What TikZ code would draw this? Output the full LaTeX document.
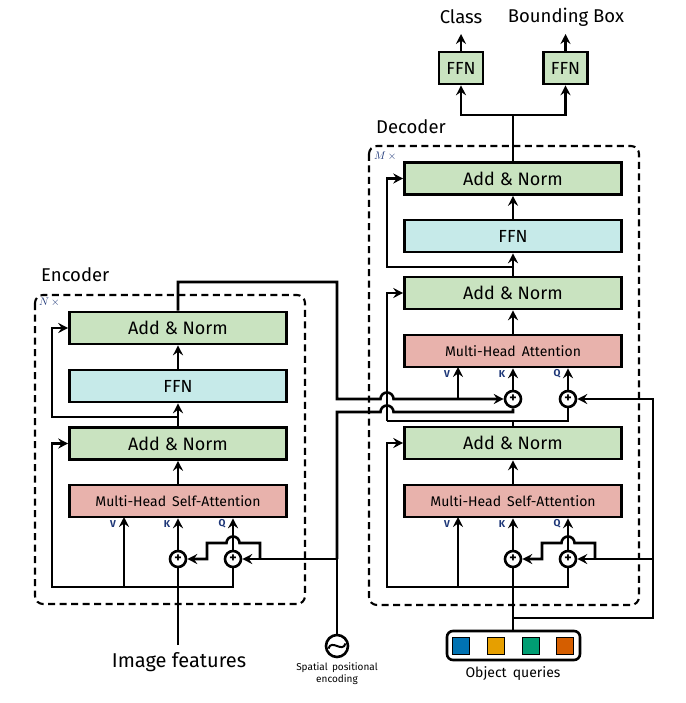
\documentclass[tikz,border=0pt]{standalone}
\usepackage{fontspec}
\setmainfont{Fira Sans}
\usetikzlibrary{arrows.meta}
\definecolor{angreen}{RGB}{201,227,192}
\definecolor{ffncyan}{RGB}{198,234,233}
\definecolor{mhapink}{RGB}{232,178,172}
\definecolor{lblnavy}{RGB}{30,55,120}
\definecolor{qblue}{RGB}{0,114,178}
\definecolor{qorange}{RGB}{230,159,0}
\definecolor{qgreen}{RGB}{0,158,115}
\definecolor{qverm}{RGB}{213,94,0}
\tikzset{
  ln/.style={line width=2.6pt},
  arr/.style={line width=2.6pt,-{Stealth[length=10pt,width=10pt,inset=3.5pt]}},
  bigbox/.style={draw,line width=2.6pt,minimum width=217pt,minimum height=32pt,inner sep=0pt},
  anbox/.style={bigbox,fill=angreen,font=\fontsize{18}{20}\selectfont},
  ffnbox/.style={bigbox,fill=ffncyan,font=\fontsize{17.5}{20}\selectfont},
  mhabox/.style={bigbox,fill=mhapink,font=\fontsize{14}{16}\selectfont},
  smallffn/.style={draw,line width=2.6pt,fill=angreen,minimum width=44pt,minimum height=32pt,inner sep=0pt,font=\fontsize{17.5}{20}\selectfont},
  plusnode/.style={circle,draw,line width=2.6pt,fill=white,minimum size=16pt,inner sep=0pt,font=\bfseries\fontsize{14}{14}\selectfont},
  vkq/.style={font=\bfseries\fontsize{10}{11}\selectfont,text=lblnavy,inner sep=0pt},
  repbox/.style={draw,dashed,dash pattern=on 7pt off 4.5pt,line width=2.1pt,rounded corners=8pt},
  title/.style={font=\fontsize{18.5}{21}\selectfont,inner sep=0pt},
  qsq/.style={draw,line width=1.8pt,minimum size=17pt,inner sep=0pt},
  repl/.style={anchor=west,inner sep=0pt,font=\fontsize{11}{11}\selectfont,text=lblnavy},
}
\begin{document}
\begin{tikzpicture}[x=1pt,y=-1pt]
\useasboundingbox (0,0) rectangle (685,703);
% ---------------- Encoder ----------------
\draw[repbox] (35,295) rectangle (305,604);
\node[repl] (encN) at (39,302.5) {$N\,\times$};
\node[title,anchor=west] (enclbl) at (41,275) {Encoder};
\node[anbox] (eAN2) at (178,328) {Add \& Norm};
\node[ffnbox] (eFFN) at (178,386) {FFN};
\node[anbox] (eAN1) at (178,443.5) {Add \& Norm};
\node[mhabox] (eMHSA) at (178,501) {Multi-Head\, Self-Attention};
\node[plusnode] (ePK) at (178,559) {+};
\node[plusnode] (ePQ) at (233,559) {+};
\node[vkq] (eV) at (113,524) {V};
\node[vkq] (eK) at (167,524) {K};
\node[vkq] (eQ) at (222,524) {Q};
\node[font=\fontsize{20}{22}\selectfont,inner sep=0pt] (imf) at (179,662) {Image features};
\coordinate (imftop) at (178,645);
% image feature input
\draw[ln] (imftop) -- (ePK.south);
\draw[arr] (ePK.north) -- (ePK.north |- eMHSA.south);
\draw[arr] (ePQ.north) -- (ePQ.north |- eMHSA.south);
\coordinate (eBot) at (52,587);
\draw[arr] (ePQ.south) -- (233,587) -- (eBot) -- (eBot |- eAN1.west) -- (eAN1.west);
\draw[arr] (124,587) -- (124,517);
\draw[arr] (eMHSA.north) -- (eAN1.south);
\draw[arr] (eAN1.north) -- (eFFN.south);
\draw[arr] (eFFN.north) -- (eAN2.south);
\draw[arr] (178,417) -- (52,417) -- (52,328) -- (eAN2.west);
% positional encoding into encoder
\node[circle,draw,line width=2.6pt,minimum size=22pt,inner sep=0pt] (pe) at (337,646) {};
\draw[line width=2pt] (pe.center) ++(-8.5,2.5) .. controls +(3,-10) and +(-3,10) .. ++(17,-5);
\node[font=\fontsize{10}{12}\selectfont,align=center,inner sep=0pt] (pelbl) at (337,674) {Spatial\, positional\\encoding};
\draw[arr] (pe.north) -- (337,559) -- (ePQ.east);
\draw[arr] (260,559) -- (260,543) -- (239.5,543) arc[start angle=0,end angle=-180,radius=6.5] -- (207,543) -- (207,559) -- (ePK.east);
% ---------------- Decoder ----------------
\draw[repbox] (369,146) rectangle (639,605);
\node[repl] (decM) at (374,156) {$M\,\times$};
\node[title,anchor=west] (declbl) at (376,127) {Decoder};
\node[anbox] (dAN3) at (513,178.5) {Add \& Norm};
\node[ffnbox] (dFFN) at (513,236) {FFN};
\node[anbox] (dAN2) at (513,293) {Add \& Norm};
\node[mhabox] (dMHA) at (513,351) {Multi-Head\, Attention};
\node[anbox] (dAN1) at (513,443) {Add \& Norm};
\node[mhabox] (dMHSA) at (513,501) {Multi-Head\, Self-Attention};
\node[plusnode] (dPK) at (513,399) {+};
\node[plusnode] (dPQ) at (568,399) {+};
\node[plusnode] (dPK2) at (513,559) {+};
\node[plusnode] (dPQ2) at (568,559) {+};
\node[vkq] (dV) at (447,374) {V};
\node[vkq] (dK) at (502,374) {K};
\node[vkq] (dQ) at (557,374) {Q};
\node[vkq] (dV2) at (447,524) {V};
\node[vkq] (dK2) at (502,524) {K};
\node[vkq] (dQ2) at (557,524) {Q};
\node[smallffn] (fc) at (461,68) {FFN};
\node[smallffn] (fb) at (565.5,68) {FFN};
\node[title] (cls) at (461,17) {Class};
\node[title] (bbx) at (566,17) {Bounding Box};
\coordinate (clstip) at (461,34);
\coordinate (bbxtip) at (565.5,34);
% object queries
\node[draw,line width=2.6pt,rounded corners=6pt,minimum width=133pt,minimum height=29pt,inner sep=0pt] (oq) at (513.5,645.5) {};
\node[qsq,fill=qblue] (q1) at (461,646) {};
\node[qsq,fill=qorange] (q2) at (496,646) {};
\node[qsq,fill=qgreen] (q3) at (531,646) {};
\node[qsq,fill=qverm] (q4) at (565,646) {};
\node[font=\fontsize{14}{16}\selectfont,inner sep=0pt] (oqlbl) at (513,674) {Object\, queries};
% decoder bottom layer
\draw[ln] (oq.north -| dPK2) -- (dPK2.south);
\draw[arr] (513,618) -- (653,618) -- (653,399) -- (dPQ.east);
\draw[arr] (653,559) -- (dPQ2.east);
\draw[arr] (595,559) -- (595,543) -- (574.5,543) arc[start angle=0,end angle=-180,radius=6.5] -- (542,543) -- (542,559) -- (dPK2.east);
\draw[arr] (dPK2.north) -- (dPK2.north |- dMHSA.south);
\draw[arr] (dPQ2.north) -- (dPQ2.north |- dMHSA.south);
\draw[arr] (dPQ2.south) -- (568,587) -- (387,587) -- (387,443) -- (dAN1.west);
\draw[arr] (458,587) -- (458,517);
\draw[arr] (dMHSA.north) -- (dAN1.south);
% decoder cross attention
\draw[ln] (dAN1.north) -- (513,421);
\draw[ln] (dPQ.south) -- (568,421) -- (387,421);
\draw[arr] (387,421) -- (387,293) -- (dAN2.west);
\draw[arr] (dPK.north) -- (dPK.north |- dMHA.south);
\draw[arr] (dPQ.north) -- (dPQ.north |- dMHA.south);
% encoder memory
\draw[arr] (eAN2.north) -- (178,282) -- (337,282) -- (337,399) -- (380.5,399) arc[start angle=180,end angle=360,radius=6.5] -- (dPK.west);
\draw[arr] (458,399) -- (458,367);
% positional encoding into decoder K
\draw[ln] (337,559) -- (337,412) -- (380.5,412) arc[start angle=180,end angle=360,radius=6.5] -- (513,412) -- (dPK.south);
\draw[arr] (dMHA.north) -- (dAN2.south);
\draw[arr] (dAN2.north) -- (dFFN.south);
\draw[arr] (dFFN.north) -- (dAN3.south);
\draw[arr] (513,267) -- (387,267) -- (387,178.5) -- (dAN3.west);
% heads
\draw[ln] (dAN3.north) -- (513,115);
\draw[arr] (513,115) -- (461,115) -- (fc.south);
\draw[arr] (513,115) -- (565.5,115) -- (fb.south);
\draw[arr] (fc.north) -- (clstip);
\draw[arr] (fb.north) -- (bbxtip);
\end{tikzpicture}
\end{document}
